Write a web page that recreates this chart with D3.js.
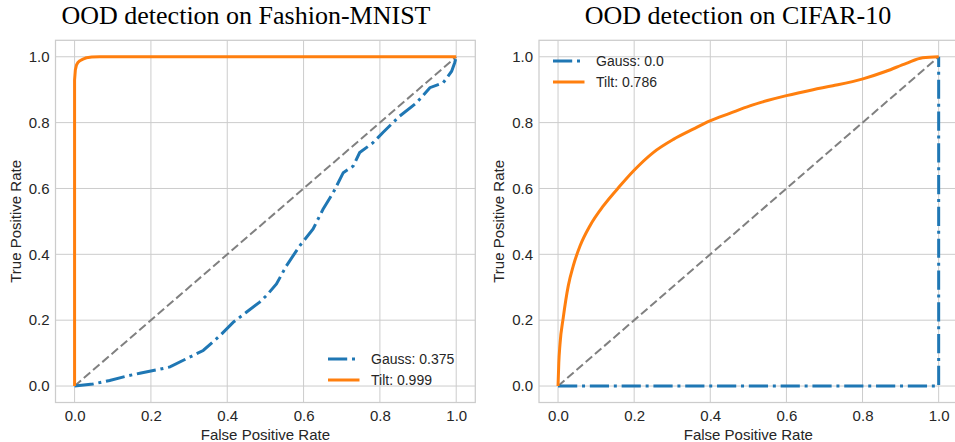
<!DOCTYPE html>
<html>
<head>
<meta charset="utf-8">
<script src="https://cdn.jsdelivr.net/npm/d3@7"></script>
<style>
  body { margin: 0; background: #fff; }
  svg { display: block; }
</style>
</head>
<body>
<div id="chart"></div>
<script>
// ROC curves
var fmGaussFpr = [0, 0.048, 0.092, 0.136, 0.171, 0.215, 0.25, 0.293, 0.337, 0.381, 0.416, 0.45, 0.485, 0.503, 0.529, 0.555, 0.59, 0.625, 0.651, 0.678, 0.704, 0.73, 0.747, 0.782, 0.808, 0.852, 0.896, 0.931, 0.966, 0.988, 0.996, 1.0];
var fmGaussTpr = [0, 0.006, 0.017, 0.03, 0.039, 0.049, 0.058, 0.083, 0.108, 0.153, 0.194, 0.224, 0.255, 0.275, 0.31, 0.365, 0.426, 0.477, 0.537, 0.588, 0.648, 0.668, 0.709, 0.739, 0.77, 0.82, 0.86, 0.906, 0.921, 0.956, 0.982, 1.0];
var fmTiltFpr = [0, 0, 0, 0.002, 0.005, 0.009, 0.014, 0.022, 0.031, 0.045, 0.066, 1.0];
var fmTiltTpr = [0, 0.8, 0.93, 0.96, 0.975, 0.983, 0.988, 0.993, 0.997, 0.999, 1.0, 1.0];

var cfGaussFpr = [0, 1, 1];
var cfGaussTpr = [0, 0, 1];
var cfTiltFpr = [0, 0.002, 0.005, 0.014, 0.027, 0.04, 0.058, 0.084, 0.119, 0.163, 0.198, 0.25, 0.303, 0.355, 0.399, 0.451, 0.504, 0.55, 0.6, 0.67, 0.722, 0.801, 0.862, 0.915, 0.958, 1.0];
var cfTiltTpr = [0, 0.07, 0.125, 0.21, 0.305, 0.365, 0.426, 0.487, 0.547, 0.608, 0.653, 0.709, 0.749, 0.78, 0.805, 0.828, 0.851, 0.867, 0.882, 0.9, 0.912, 0.933, 0.956, 0.98, 0.997, 1.0];

var ticks = [0, 0.2, 0.4, 0.6, 0.8, 1.0];
var seriesNames = ["Gauss", "Tilt"];
var fmAuc = ["0.375", "0.999"];
var cfAuc = ["0.0", "0.786"];

var width = 955, height = 442;
var blue = "#1f77b4", orange = "#ff7f0e", grid = "#cccccc", ink = "#262626";
var sans = "'Liberation Sans', Arial, sans-serif";

var svg = d3.select("#chart").append("svg")
  .attr("width", width)
  .attr("height", height);

function zip(xs, ys) {
  return xs.map(function(x, i) { return [x, ys[i]]; });
}

function drawPanel(opt) {
  var x = d3.scaleLinear().domain([-0.05, 1.05]).range([opt.left, opt.right]);
  var y = d3.scaleLinear().domain([-0.05, 1.05]).range([402.5, 40.3]);

  var g = svg.append("g");

  // grid
  g.selectAll(".vgrid").data(ticks).enter().append("line")
    .attr("x1", function(d) { return x(d); }).attr("x2", function(d) { return x(d); })
    .attr("y1", y(-0.05)).attr("y2", y(1.05))
    .attr("stroke", grid).attr("stroke-width", 1);
  g.selectAll(".hgrid").data(ticks).enter().append("line")
    .attr("y1", function(d) { return y(d); }).attr("y2", function(d) { return y(d); })
    .attr("x1", x(-0.05)).attr("x2", x(1.05))
    .attr("stroke", grid).attr("stroke-width", 1);

  // axes (labels only)
  var xAxis = g.append("g").attr("transform", "translate(0," + y(-0.05) + ")")
    .call(d3.axisBottom(x).tickValues(ticks).tickFormat(d3.format(".1f")).tickSize(0).tickPadding(8));
  var yAxis = g.append("g").attr("transform", "translate(" + x(-0.05) + ",0)")
    .call(d3.axisLeft(y).tickValues(ticks).tickFormat(d3.format(".1f")).tickSize(0).tickPadding(6));
  [xAxis, yAxis].forEach(function(a) {
    a.select(".domain").remove();
    a.selectAll("text").attr("fill", ink).style("font-size", "15px").style("font-family", sans);
  });

  // frame
  g.append("rect")
    .attr("x", x(-0.05)).attr("y", y(1.05))
    .attr("width", x(1.05) - x(-0.05)).attr("height", y(-0.05) - y(1.05))
    .attr("fill", "none").attr("stroke", grid).attr("stroke-width", 1.25);

  var line = d3.line().x(function(d) { return x(d[0]); }).y(function(d) { return y(d[1]); });

  // chance diagonal
  g.append("path").datum([[0, 0], [1, 1]])
    .attr("d", line).attr("fill", "none")
    .attr("stroke", "#808080").attr("stroke-width", 2).attr("stroke-dasharray", "8.5,3.7");

  g.append("path").datum(opt.gauss)
    .attr("d", line).attr("fill", "none")
    .attr("stroke", blue).attr("stroke-width", 3).attr("stroke-dasharray", "19.2,4.8,3,4.8");

  g.append("path").datum(opt.tilt)
    .attr("d", line.curve(opt.curve)).attr("fill", "none")
    .attr("stroke", orange).attr("stroke-width", 3).attr("stroke-linejoin", "round");

  // title
  svg.append("text")
    .attr("x", opt.titleX).attr("y", 23.5)
    .attr("text-anchor", "middle")
    .style("font-family", "'Liberation Serif', 'Times New Roman', serif")
    .style("font-size", "26px")
    .attr("fill", "#000")
    .text(opt.title);

  // axis labels
  svg.append("text")
    .attr("x", (x(0) + x(1)) / 2).attr("y", 440)
    .attr("text-anchor", "middle")
    .style("font-family", sans).style("font-size", "15px").attr("fill", ink)
    .text("False Positive Rate");
  svg.append("text")
    .attr("transform", "translate(" + opt.ylabX + "," + (y(-0.05) + y(1.05)) / 2 + ") rotate(-90)")
    .attr("text-anchor", "middle")
    .style("font-family", sans).style("font-size", "15px").attr("fill", ink)
    .text("True Positive Rate");

  // legend
  var leg = g.append("g");
  var items = [
    { name: seriesNames[0] + ": " + opt.auc[0], color: blue, dash: "19.2,4.8,3,4.8" },
    { name: seriesNames[1] + ": " + opt.auc[1], color: orange, dash: null }
  ];
  items.forEach(function(it, i) {
    var ly = opt.legY + i * 21;
    leg.append("line")
      .attr("x1", opt.legX).attr("x2", opt.legX + 31.5)
      .attr("y1", ly).attr("y2", ly)
      .attr("stroke", it.color).attr("stroke-width", 3)
      .attr("stroke-dasharray", it.dash);
    leg.append("text")
      .attr("x", opt.legX + 43).attr("y", ly + 5)
      .style("font-family", sans).style("font-size", "14px").attr("fill", ink)
      .text(it.name);
  });
}

drawPanel({
  left: 55.5, right: 475.3,
  gauss: zip(fmGaussFpr, fmGaussTpr),
  tilt: zip(fmTiltFpr, fmTiltTpr),
  curve: d3.curveLinear,
  title: "OOD detection on Fashion-MNIST", titleX: 246,
  auc: fmAuc, legX: 328, legY: 359, ylabX: 21
});

drawPanel({
  left: 539, right: 957.7,
  gauss: zip(cfGaussFpr, cfGaussTpr),
  tilt: zip(cfTiltFpr, cfTiltTpr),
  curve: d3.curveMonotoneX,
  title: "OOD detection on CIFAR-10", titleX: 738,
  auc: cfAuc, legX: 553, legY: 61, ylabX: 504
});
</script>
</body>
</html>
